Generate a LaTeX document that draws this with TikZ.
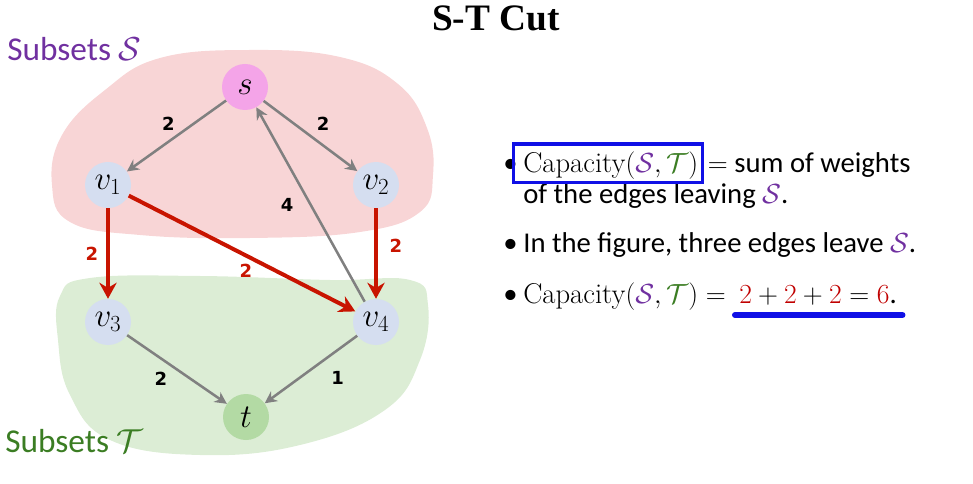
\documentclass[tikz,border=0pt]{standalone}
\usepackage{fontspec}
\setsansfont{Carlito}
\newfontfamily\titlefont{Liberation Serif}
\newfontfamily\lblfont{DejaVu Sans}
\usetikzlibrary{arrows.meta,positioning}
\definecolor{blobPink}{HTML}{F8D5D6}
\definecolor{blobGreen}{HTML}{DCEDD5}
\definecolor{srcPink}{HTML}{F4A4E8}
\definecolor{midBlue}{HTML}{D5DEF0}
\definecolor{sinkGreen}{HTML}{B3DAA4}
\definecolor{edgeGray}{HTML}{808080}
\definecolor{cutRed}{HTML}{C81400}
\definecolor{sumRed}{HTML}{C00000}
\definecolor{setPurple}{HTML}{7030A0}
\definecolor{setGreen}{HTML}{3B7D23}
\definecolor{markBlue}{HTML}{1010E6}

\begin{document}
\begin{tikzpicture}[x=0.75pt, y=-0.75pt,
    vertex/.style={circle, inner sep=0pt, minimum size=34.5pt,
                   font=\fontsize{23}{26}\selectfont},
    flow/.style={draw=edgeGray, line width=1.9pt,
                 -{Stealth[length=9pt, width=9pt]}},
    cutedge/.style={draw=cutRed, line width=3pt,
                    -{Stealth[length=12pt, width=13pt]}},
    wt/.style={font=\lblfont\bfseries\fontsize{13.5}{16}\selectfont, inner sep=0pt},
    body/.style={font=\sffamily\fontsize{21.5}{24}\selectfont, inner sep=0pt,
                 anchor=base west},
    setlabel/.style={font=\sffamily\fontsize{25}{30}\selectfont, inner sep=0pt,
                     anchor=base west}
  ]
  \useasboundingbox (0,0) rectangle (973,484);

  % the two sides of the cut
  \fill[blobPink] plot[smooth cycle, tension=0.7] coordinates {
    (52,185) (62,135) (105,90) (160,58) (250,50) (340,57) (398,84)
    (427,128) (433,175) (420,212) (360,232) (250,238) (140,235) (70,222)};
  \fill[blobGreen] plot[smooth cycle, tension=0.7] coordinates {
    (60,296) (90,278) (200,276) (330,280) (410,280) (428,305)
    (420,360) (385,410) (300,445) (200,455) (110,440) (70,395) (58,340)};

  \node[font=\titlefont\bfseries\fontsize{28}{32}\selectfont] (title) at (496,18) {S-T Cut};
  \node[setlabel, text=setPurple] (lblS) at (7,61) {Subsets $\mathcal{S}$};
  \node[setlabel, text=setGreen] (lblT) at (5,452) {Subsets $\mathcal{T}$};

  % vertices
  \node[vertex, fill=srcPink] (s) at (245,87) {$s$};
  \node[vertex, fill=midBlue] (v1) at (108,185) {$v_1$};
  \node[vertex, fill=midBlue] (v2) at (376,185) {$v_2$};
  \node[vertex, fill=midBlue] (v3) at (108,322) {$v_3$};
  \node[vertex, fill=midBlue] (v4) at (376,322) {$v_4$};
  \node[vertex, fill=sinkGreen] (t) at (246,417) {$t$};

  % edges
  \draw[flow] (s) -- (v1) node[wt, midway, xshift=-6pt, yshift=9pt] {2};
  \draw[flow] (s) -- (v2) node[wt, midway, xshift=9.5pt, yshift=9pt] {2};
  \draw[flow] (v4) -- (s) node[wt, midway, xshift=-17.5pt] {4};
  \draw[cutedge] (v1) -- (v3) node[wt, text=cutRed, midway, xshift=-12pt] {2};
  \draw[cutedge] (v1) -- (v4) node[wt, text=cutRed, midway, xshift=3pt, yshift=-13pt] {2};
  \draw[cutedge] (v2) -- (v4) node[wt, text=cutRed, midway, xshift=15pt, yshift=5.5pt] {2};
  \draw[flow] (v3) -- (t) node[wt, midway, xshift=-12pt, yshift=-7pt] {2};
  \draw[flow] (v4) -- (t) node[wt, midway, xshift=20pt, yshift=-6.5pt] {1};

  % bullet text
  \node[body] (dot1) at (503,173) {•};
  \node[body] (cap1) at (523,173) {\rmfamily Capacity$(\textcolor{setPurple}{\mathcal{S}},\textcolor{setGreen}{\mathcal{T}})$};
  \node[body] (rest1) at ([xshift=7pt]cap1.base east) {$=$ sum of weights};
  \node[body] (line2) at (523,204) {of the edges leaving $\textcolor{setPurple}{\mathcal{S}}$.};
  \node[body] (dot2) at (503,253) {•};
  \node[body] (line3) at (523,253) {In the figure, three edges leave $\textcolor{setPurple}{\mathcal{S}}$.};
  \node[body] (dot3) at (503,303) {•};
  \node[body] (cap3) at (523,303) {\rmfamily Capacity$(\textcolor{setPurple}{\mathcal{S}},\textcolor{setGreen}{\mathcal{T}})={}$};
  \node[body] (sum3) at ([xshift=4pt]cap3.base east) {$\textcolor{sumRed}{2}+\textcolor{sumRed}{2}+\textcolor{sumRed}{2}=\textcolor{sumRed}{6}$.};

  \draw[markBlue, line width=2.3pt]
    ([xshift=-7pt, yshift=6pt]cap1.north west) rectangle ([xshift=3pt, yshift=-2pt]cap1.south east);
  \draw[markBlue, line width=4.5pt, line cap=round]
    ([xshift=-3pt, yshift=-9pt]sum3.base west) -- ([xshift=4pt, yshift=-9pt]sum3.base east);
\end{tikzpicture}
\end{document}
